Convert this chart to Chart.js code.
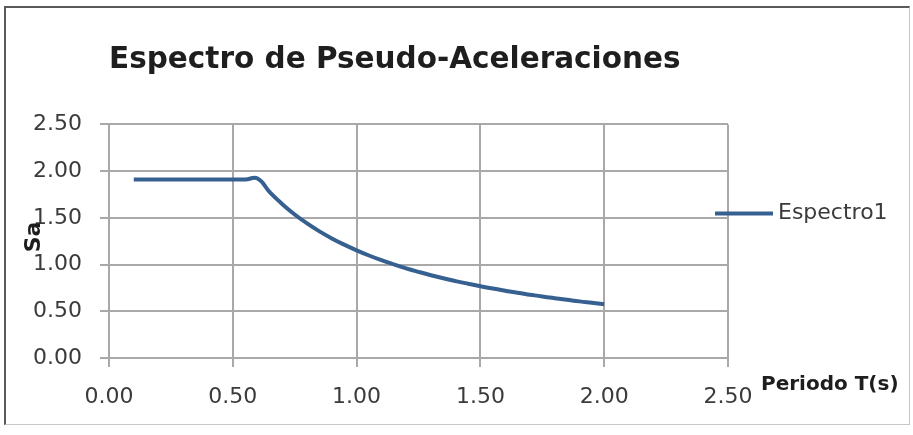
<!DOCTYPE html>
<html>
<head>
<meta charset="utf-8">
<script src="https://cdn.jsdelivr.net/npm/chart.js@4/dist/chart.umd.min.js"></script>
<style>
  html, body { margin: 0; padding: 0; background: #ffffff; }
  #wrap { position: relative; width: 913px; height: 435px; }
  #chart { position: absolute; left: 0; top: 0; }
  #frame {
    position: absolute; left: 4px; top: 6px; width: 903px; height: 416px;
    border-left: 2px solid #5a5a5a; border-top: 2px solid #5a5a5a;
    border-right: 1px solid #c8c8c8; border-bottom: 1px solid #c8c8c8;
    pointer-events: none;
  }
</style>
</head>
<body>
<div id="wrap">
  <canvas id="chart" width="913" height="435"></canvas>
  <div id="frame"></div>
</div>
<script>
// Spectrum of pseudo-accelerations: period T (s) vs Sa
const TITLE = 'Espectro de Pseudo-Aceleraciones';
const X_TITLE = 'Periodo T(s)';
const Y_TITLE = 'Sa';
const SERIES_NAME = 'Espectro1';

const periodo = [0.10, 0.15, 0.20, 0.25, 0.30, 0.35, 0.40, 0.45, 0.50, 0.55,
                 0.60, 0.65, 0.70, 0.75, 0.80, 0.85, 0.90, 0.95, 1.00, 1.05,
                 1.10, 1.15, 1.20, 1.25, 1.30, 1.35, 1.40, 1.45, 1.50, 1.55,
                 1.60, 1.65, 1.70, 1.75, 1.80, 1.85, 1.90, 1.95, 2.00];
const sa      = [1.910, 1.910, 1.910, 1.910, 1.910, 1.910, 1.910, 1.910, 1.910, 1.910,
                 1.920, 1.772, 1.646, 1.536, 1.440, 1.355, 1.280, 1.213, 1.152, 1.097,
                 1.047, 1.002, 0.960, 0.922, 0.886, 0.853, 0.823, 0.795, 0.768, 0.743,
                 0.720, 0.698, 0.678, 0.658, 0.640, 0.623, 0.606, 0.591, 0.576];

const xTicks = [0, 0.5, 1.0, 1.5, 2.0, 2.5];
const yTicks = [0, 0.5, 1.0, 1.5, 2.0, 2.5];

const LINE_COLOR = '#36608f';
const GRID_COLOR = '#a9a9a9';
const TEXT_COLOR = '#3b3b3b';
const FONT = '"DejaVu Sans", "Open Sans", sans-serif';

// Axis titles and the series key sit outside Chart.js' own boxes
const notesPlugin = {
  id: 'notes',
  afterDraw(chart) {
    const { ctx } = chart;
    const xs = chart.scales.x, ys = chart.scales.y;
    ctx.save();
    ctx.fillStyle = '#1e1e1e';
    ctx.textBaseline = 'middle';

    // x-axis title, on the tick-label row after the last value
    ctx.font = 'bold 20px ' + FONT;
    ctx.textAlign = 'left';
    ctx.fillText(X_TITLE, xs.right + 33, ys.bottom + 27);

    // y-axis title, rotated
    ctx.save();
    ctx.translate(xs.left - 75, ys.bottom - 121);
    ctx.rotate(-Math.PI / 2);
    ctx.textAlign = 'center';
    ctx.font = 'bold 22px ' + FONT;
    ctx.fillText(Y_TITLE, 0, 0);
    ctx.restore();

    // series key
    const ly = ys.top + 89;
    ctx.strokeStyle = LINE_COLOR;
    ctx.lineWidth = 4;
    ctx.beginPath();
    ctx.moveTo(xs.right - 13, ly);
    ctx.lineTo(xs.right + 45, ly);
    ctx.stroke();
    ctx.fillStyle = TEXT_COLOR;
    ctx.font = '22px ' + FONT;
    ctx.textAlign = 'left';
    ctx.fillText(chart.data.datasets[0].label, xs.right + 50, ly);
    ctx.restore();
  }
};

new Chart(document.getElementById('chart'), {
  type: 'line',
  data: {
    datasets: [{
      label: SERIES_NAME,
      data: periodo.map((t, i) => ({ x: t, y: sa[i] })),
      borderColor: LINE_COLOR,
      borderWidth: 4,
      pointRadius: 0,
      tension: 0.45,
      fill: false
    }]
  },
  options: {
    responsive: false,
    animation: false,
    layout: { padding: { left: 0, right: 185, top: 0, bottom: 0 } },
    plugins: {
      legend: { display: false },
      tooltip: { enabled: false },
      title: {
        display: true,
        fullSize: false,
        text: TITLE,
        align: 'start',
        color: '#1e1e1e',
        font: { family: FONT, size: 29.5, weight: 'bold', lineHeight: 1.2 },
        padding: { top: 43, bottom: 46 }
      }
    },
    scales: {
      x: {
        type: 'linear',
        min: 0, max: 2.5,
        afterBuildTicks: s => { s.ticks = xTicks.map(v => ({ value: v })); },
        afterFit: s => { s.height = 77; },
        ticks: {
          color: TEXT_COLOR,
          font: { family: FONT, size: 22 },
          padding: 17,
          maxRotation: 0,
          callback: v => Number(v).toFixed(2)
        },
        grid: { color: GRID_COLOR, lineWidth: 2, tickLength: 9, drawTicks: true },
        border: { color: GRID_COLOR, width: 2 }
      },
      y: {
        type: 'linear',
        min: 0, max: 2.5,
        afterBuildTicks: s => { s.ticks = yTicks.map(v => ({ value: v })); },
        afterFit: s => { s.width = 109; },
        ticks: {
          color: TEXT_COLOR,
          font: { family: FONT, size: 22 },
          padding: 18,
          callback: v => Number(v).toFixed(2)
        },
        grid: { color: GRID_COLOR, lineWidth: 2, tickLength: 9, drawTicks: true },
        border: { color: GRID_COLOR, width: 2 }
      }
    }
  },
  plugins: [notesPlugin]
});
</script>
</body>
</html>
